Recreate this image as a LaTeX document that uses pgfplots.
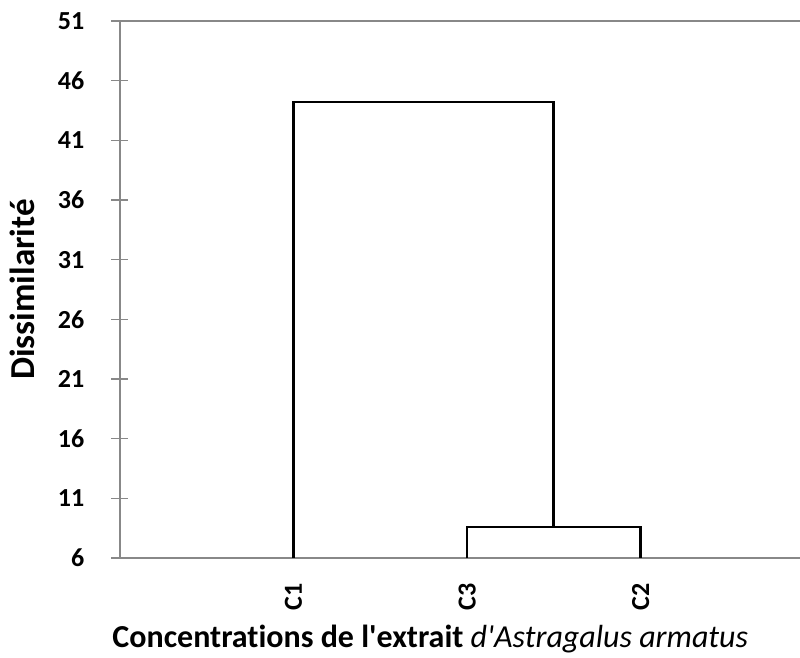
\documentclass[border=0pt]{standalone}
\usepackage{fontspec}
\setmainfont{Carlito}[Ligatures={TeXOff,NoCommon}]
\usepackage{pgfplots}
\pgfplotsset{compat=1.18}
\definecolor{axisgray}{RGB}{136,136,136}
\begin{document}
\begin{tikzpicture}
\path[use as bounding box] (-120pt,-99pt) rectangle (680pt,558pt);
\begin{axis}[
  scale only axis, width=682pt, height=537pt,
  xmin=0, xmax=3.93, ymin=6, ymax=51,
  axis line style={axisgray, line width=1.5pt},
  ytick={6,11,...,51}, ytick pos=left,
  ytick align=center, major tick length=17pt,
  y tick style={axisgray, line width=1.5pt},
  xtick={1,2,3}, xticklabels={C1,C3,C2}, xtick pos=bottom,
  x tick style={draw=none},
  xticklabel shift=25pt,
  x tick label style={rotate=90, anchor=east, inner sep=0pt, font=\fontsize{26}{30}\selectfont\bfseries},
  y tick label style={anchor=east, inner sep=0pt, xshift=-27pt, font=\fontsize{26}{30}\selectfont\bfseries},
  ylabel={Dissimilarité},
  ylabel style={at={(axis description cs:-0.125,0.5)}, anchor=base, inner sep=0pt, font=\fontsize{35}{40}\selectfont\bfseries},
  xlabel={Concentrations de l'extrait {\mdseries\itshape d'Astragalus armatus}},
  xlabel style={at={(axis description cs:0.455,-0.166)}, anchor=base, inner sep=0pt, font=\fontsize{32}{38}\selectfont\bfseries},
  /pgf/number format/assume math mode=true,
  clip=false, no marks,
]
\addplot[black, line width=2.7pt] coordinates {(1,6) (1,44.2) (2.5,44.2) (2.5,8.6)};
\addplot[black, line width=2.7pt] coordinates {(2,6) (2,8.6) (3,8.6) (3,6)};
\end{axis}
\end{tikzpicture}
\end{document}
